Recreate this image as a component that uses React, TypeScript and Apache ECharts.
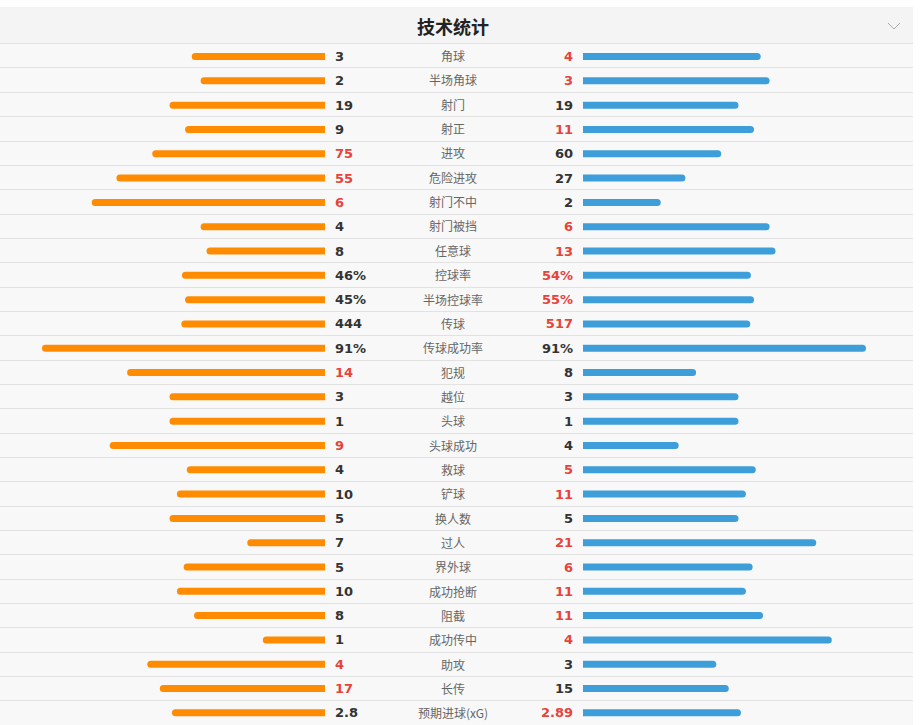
import React, { useEffect, useRef } from "react";
import * as echarts from "echarts";

const categories = [
  "角球", "半场角球", "射门", "射正", "进攻", "危险进攻", "射门不中", "射门被挡", "任意球",
  "控球率", "半场控球率", "传球", "传球成功率", "犯规", "越位", "头球", "头球成功", "救球",
  "铲球", "换人数", "过人", "界外球", "成功抢断", "阻截", "成功传中", "助攻", "长传", "预期进球(xG)",
];
const homeValues = [3, 2, 19, 9, 75, 55, 6, 4, 8, 46, 45, 444, 91, 14, 3, 1, 9, 4, 10, 5, 7, 5, 10, 8, 1, 4, 17, 2.8];
const awayValues = [4, 3, 19, 11, 60, 27, 2, 6, 13, 54, 55, 517, 91, 8, 3, 1, 4, 5, 11, 5, 21, 6, 11, 11, 4, 3, 15, 2.89];
const percentRows = ["控球率", "半场控球率", "传球成功率"];

const RED = "#e6433a";
const DARK = "#333333";

function isPct(i: number) {
  return percentRows.includes(categories[i]);
}
function share(side: number[], other: number[], i: number) {
  if (isPct(i)) return side[i] / 100;
  const t = side[i] + other[i];
  return t === 0 ? 0 : side[i] / t;
}
function fmt(v: number, i: number) {
  return String(v) + (isPct(i) ? "%" : "");
}

export default function App() {
  const ref = useRef<HTMLDivElement>(null);
  useEffect(() => {
    if (!ref.current) return;
    const chart = echarts.init(ref.current, undefined, { renderer: "svg" });
    const top = 43.4;
    const height = 682.4;
    const numFont = "Verdana, 'DejaVu Sans', sans-serif";
    const option: any = {
      animation: false,
      graphic: [
        { type: "rect", shape: { x: 0, y: 7, width: 913, height: 37 }, style: { fill: "#f4f4f4" }, z: 0 },
        {
          type: "text", x: 453, y: 26,
          style: { text: "技术统计", fill: "#222", font: "bold 18px 'Noto Sans CJK SC', sans-serif", textAlign: "center", textVerticalAlign: "middle" },
        },
        { type: "polyline", shape: { points: [[888, 23], [894, 29], [900, 23]] }, style: { stroke: "#aaaaaa", lineWidth: 1, fill: "none" } },
      ],
      grid: [
        { left: 14, width: 311, top: top + 1, height },
        { left: 583, width: 311, top: top + 1, height },
        { left: 0, width: 913, top, height, show: true, backgroundColor: "#f8f8f8", borderWidth: 0, z: -1 },
      ],
      xAxis: [
        { gridIndex: 0, type: "value", min: 0, max: 1, inverse: true, show: false },
        { gridIndex: 1, type: "value", min: 0, max: 1, show: false },
        { gridIndex: 2, type: "value", min: 0, max: 1, show: false },
      ],
      yAxis: [
        {
          gridIndex: 0, type: "category", data: categories, inverse: true, position: "right",
          axisLine: { show: false }, axisTick: { show: false }, splitLine: { show: false },
          axisLabel: {
            margin: 10, align: "left", fontSize: 13, fontWeight: "bold", fontFamily: numFont,
            formatter: (_v: string, i: number) => fmt(homeValues[i], i),
            color: (_v: string, i: number) => (homeValues[i] > awayValues[i] ? RED : DARK),
          },
        },
        {
          gridIndex: 1, type: "category", data: categories, inverse: true, position: "left",
          axisLine: { show: false }, axisTick: { show: false }, splitLine: { show: false },
          axisLabel: {
            margin: 10, align: "right", fontSize: 13, fontWeight: "bold", fontFamily: numFont,
            formatter: (_v: string, i: number) => fmt(awayValues[i], i),
            color: (_v: string, i: number) => (awayValues[i] > homeValues[i] ? RED : DARK),
          },
        },
        {
          gridIndex: 2, type: "category", data: categories, inverse: true, position: "left",
          axisLine: { show: false }, axisTick: { show: false },
          splitLine: { show: true, lineStyle: { color: "#e2e2e2", width: 1 } },
          axisLabel: {
            inside: true, margin: 453, align: "center", fontSize: 12, color: "#666666",
            fontFamily: "'Noto Sans CJK SC', sans-serif", padding: [2, 0, 0, 0],
          },
        },
      ],
      series: [
        {
          type: "bar", xAxisIndex: 0, yAxisIndex: 0, barWidth: 7,
          data: categories.map((_c, i) => share(homeValues, awayValues, i)),
          itemStyle: { color: "#ff8c00", borderRadius: [3.5, 0, 0, 3.5] },
        },
        {
          type: "bar", xAxisIndex: 1, yAxisIndex: 1, barWidth: 7,
          data: categories.map((_c, i) => share(awayValues, homeValues, i)),
          itemStyle: { color: "#3d9ed9", borderRadius: [0, 3.5, 3.5, 0] },
        },
      ],
    };
    chart.setOption(option);
    return () => chart.dispose();
  }, []);
  return <div ref={ref} style={{ position: "absolute", left: 0, top: 0, width: 921, height: 725 }} />;
}
